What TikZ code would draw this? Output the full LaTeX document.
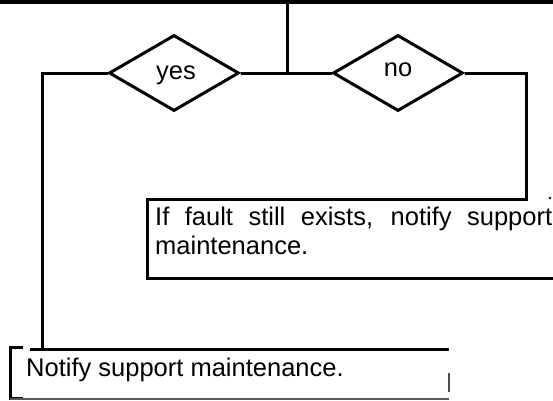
\documentclass[tikz,border=0pt]{standalone}
\usepackage{fontspec}
\setmainfont{Liberation Sans}
\usetikzlibrary{shapes.geometric}
\begin{document}
\begin{tikzpicture}[x=1pt,y=-1pt,
  ln/.style={line width=3pt},
  dia/.style={diamond,draw,line width=3pt,inner sep=0pt,minimum width=130pt,minimum height=76pt,aspect=1.7},
  txt/.style={inner sep=0pt,font=\fontsize{25.5}{29}\selectfont}]
\useasboundingbox (0,0) rectangle (553,400);
% top line
\draw[line width=4pt] (0,2) -- (553,2);
\coordinate (top) at (287.5,2);
\coordinate (j) at (287.5,73);
% diamonds
\node[dia] (yes) at (174,73) {};
\node[dia] (no) at (398,73) {};
\node[txt,anchor=base] (yest) at (176,79) {yes};
\node[txt,anchor=base] (not) at (398,76) {no};
\draw[ln] (top) -- (j);
\draw[ln] (yes.east) -- (no.west);
% right branch and upper box
\coordinate (r1) at (526,73);
\coordinate (r2) at (526,199);
\coordinate (b1) at (147,199);
\coordinate (b2) at (147,278);
\coordinate (b3) at (553,278);
\draw[ln,line join=miter] (no.east) -- (r1) -- (r2) -- (b1) -- (b2) -- (b3);
\fill (550,198) circle (1.4pt);
\node[txt,anchor=north west,text width=397pt,align=justify] (t1) at (155,207) {If fault still exists, notify support maintenance.};
% left branch and lower box
\coordinate (l1) at (42.5,73);
\coordinate (l2) at (42.5,349);
\draw[ln,line join=miter] (yes.west) -- (l1) -- (l2);
\coordinate (lt1) at (30,349);
\coordinate (lt2) at (449,349);
\draw[ln] (lt1) -- (lt2);
\coordinate (k1) at (23,347.5);
\coordinate (k2) at (10,347.5);
\coordinate (k3) at (10,398);
\coordinate (k4) at (23,398);
\draw[ln,line join=miter] (k1) -- (k2) -- (k3) -- (k4);
\coordinate (g1) at (10,399);
\coordinate (g2) at (449,399);
\draw[line width=1.5pt,black!65] (g1) -- (g2);
\coordinate (m1) at (449,373);
\coordinate (m2) at (449,392);
\draw[line width=2pt,black!70] (m1) -- (m2);
\node[txt,anchor=base west] (t2) at (26,376.5) {Notify support maintenance.};
\end{tikzpicture}
\end{document}
